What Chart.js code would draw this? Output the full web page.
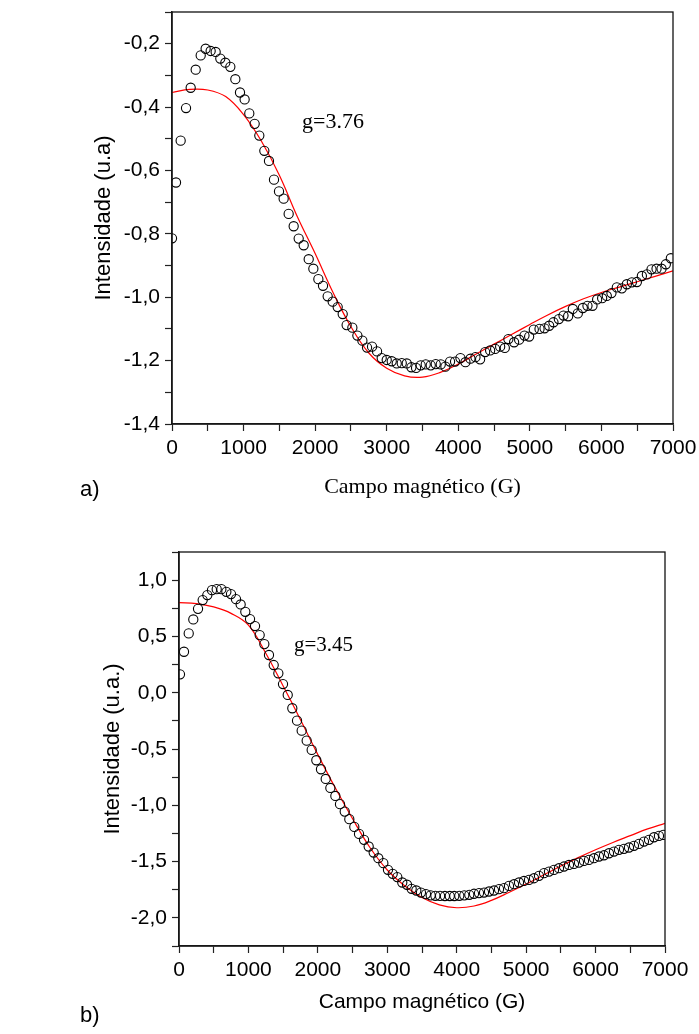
<!DOCTYPE html>
<html>
<head>
<meta charset="utf-8">
<script src="https://cdn.jsdelivr.net/npm/chart.js@4"></script>
<style>
  html, body { margin: 0; padding: 0; background: #fff; }
  body { width: 699px; height: 1034px; position: relative; overflow: hidden; }
  canvas { position: absolute; left: 0; }
  .lbl { position: absolute; font-family: "Liberation Sans", Arial, sans-serif; font-size: 22px; color: #000; }
</style>
</head>
<body>
<canvas id="chartA" width="699" height="510" style="top:0px;width:699px;height:510px"></canvas>
<canvas id="chartB" width="699" height="504" style="top:530px;width:699px;height:504px"></canvas>
<div class="lbl" style="left:80px;top:476px">a)</div>
<div class="lbl" style="left:80px;top:1002px">b)</div>
<script>
// ---------- Chart a) data ----------
const fieldA = [0,56,121,196,261,331,401,470,540,610,675,745,815,885,950,1015,1080,1155,1220,1290,1355,1425,1495,1560,1630,1700,1770,1840,1910,1975,2045,2110,2175,2245,2315,2385,2440,2520,2590,2660,2725,2795,2865,2930,3000,3070,3140,3210,3280,3345,3410,3475,3545,3615,3685,3755,3820,3885,3955,4030,4100,4170,4240,4305,4375,4445,4515,4585,4650,4700,4780,4850,4925,4990,5055,5135,5205,5270,5330,5405,5470,5535,5600,5670,5740,5805,5875,5940,6010,6075,6140,6215,6285,6355,6425,6495,6565,6635,6700,6770,6840,6900,6970];
const intensityA = [-0.814,-0.638,-0.506,-0.403,-0.339,-0.282,-0.237,-0.216,-0.223,-0.226,-0.247,-0.26,-0.273,-0.312,-0.354,-0.376,-0.42,-0.453,-0.49,-0.538,-0.57,-0.629,-0.666,-0.689,-0.737,-0.776,-0.815,-0.836,-0.88,-0.91,-0.943,-0.964,-0.997,-1.014,-1.031,-1.053,-1.088,-1.096,-1.121,-1.137,-1.159,-1.156,-1.171,-1.192,-1.198,-1.202,-1.209,-1.208,-1.209,-1.221,-1.223,-1.215,-1.212,-1.215,-1.211,-1.212,-1.219,-1.203,-1.203,-1.192,-1.205,-1.194,-1.189,-1.196,-1.173,-1.168,-1.163,-1.156,-1.16,-1.132,-1.142,-1.134,-1.121,-1.124,-1.102,-1.10,-1.098,-1.09,-1.079,-1.069,-1.058,-1.06,-1.037,-1.051,-1.034,-1.027,-1.027,-1.007,-1.003,-0.996,-0.987,-0.969,-0.972,-0.959,-0.953,-0.952,-0.933,-0.928,-0.912,-0.91,-0.91,-0.896,-0.877];
const fitFieldA = [0,250,500,750,1000,1250,1500,1750,2000,2250,2500,2750,3000,3250,3500,3750,4000,4250,4500,4750,5000,5250,5500,5750,6000,6250,6500,6750,7000];
const fitA = [-0.354,-0.344,-0.346,-0.367,-0.424,-0.508,-0.615,-0.745,-0.862,-0.985,-1.093,-1.176,-1.224,-1.248,-1.252,-1.237,-1.211,-1.179,-1.148,-1.117,-1.086,-1.056,-1.029,-1.005,-0.985,-0.968,-0.951,-0.934,-0.917];
const xTicksA = [0,1000,2000,3000,4000,5000,6000,7000];
const labelA = "g=3.76";

// ---------- Chart b) data ----------
const fieldB = [14,72,140,206,274,341,408,475,543,610,682,749,821,888,955,1023,1095,1162,1229,1296,1364,1431,1498,1566,1632,1700,1767,1839,1911,1978,2045,2113,2180,2252,2319,2387,2453,2525,2593,2665,2732,2804,2871,2943,3010,3078,3144,3216,3284,3351,3418,3485,3557,3625,3693,3760,3830,3900,3965,4037,4109,4181,4249,4321,4393,4465,4537,4609,4681,4753,4825,4897,4969,5041,5113,5185,5257,5329,5401,5473,5545,5617,5689,5761,5833,5905,5977,6049,6121,6193,6265,6337,6409,6481,6553,6625,6697,6769,6841,6913,6975];
const intensityB = [0.163,0.364,0.527,0.651,0.745,0.823,0.867,0.911,0.92,0.92,0.896,0.876,0.831,0.784,0.719,0.654,0.592,0.512,0.432,0.335,0.246,0.172,0.077,-0.02,-0.138,-0.248,-0.337,-0.426,-0.508,-0.6,-0.68,-0.766,-0.846,-0.917,-0.99,-1.056,-1.123,-1.192,-1.254,-1.307,-1.366,-1.42,-1.47,-1.514,-1.573,-1.609,-1.638,-1.686,-1.706,-1.742,-1.757,-1.775,-1.789,-1.80,-1.804,-1.805,-1.806,-1.806,-1.806,-1.804,-1.80,-1.795,-1.786,-1.78,-1.775,-1.766,-1.757,-1.745,-1.736,-1.716,-1.701,-1.686,-1.672,-1.663,-1.648,-1.627,-1.603,-1.589,-1.574,-1.559,-1.544,-1.53,-1.521,-1.509,-1.494,-1.485,-1.47,-1.455,-1.444,-1.426,-1.411,-1.396,-1.387,-1.375,-1.36,-1.343,-1.322,-1.307,-1.284,-1.272,-1.263];
const fitFieldB = [0,250,500,750,1000,1250,1500,1750,2000,2250,2500,2750,3000,3250,3500,3750,4000,4250,4500,4750,5000,5250,5500,5750,6000,6250,6500,6750,7000];
const fitB = [0.80,0.792,0.762,0.705,0.60,0.35,0.06,-0.24,-0.55,-0.845,-1.12,-1.375,-1.575,-1.715,-1.82,-1.885,-1.91,-1.895,-1.845,-1.775,-1.70,-1.62,-1.54,-1.465,-1.395,-1.33,-1.27,-1.21,-1.16];
const xTicksB = [0,1000,2000,3000,4000,5000,6000,7000];
const labelB = "g=3.45";

const SANS = '"Liberation Sans", Arial, sans-serif';
const SERIF = '"Liberation Serif", "Times New Roman", serif';

function pts(xs, ys) { return xs.map((x, i) => ({x: x, y: ys[i]})); }

const framePlugin = {
  id: 'frame',
  afterDraw(chart, args, opts) {
    const {ctx, chartArea: a} = chart;
    ctx.save();
    ctx.strokeStyle = '#111';
    ctx.lineWidth = 1.3;
    ctx.strokeRect(a.left, a.top, a.right - a.left, a.bottom - a.top);
    const xs = chart.scales.x, ys = chart.scales.y;
    ctx.fillStyle = '#000';
    ctx.font = opts.font;
    ctx.textAlign = 'left';
    ctx.textBaseline = 'alphabetic';
    ctx.fillText(opts.text, xs.getPixelForValue(opts.x), ys.getPixelForValue(opts.y));
    ctx.restore();
  }
};

function makeChart(id, cfg) {
  const axisCommon = {
    grid: { drawOnChartArea: false, drawTicks: true, tickLength: 7, color: '#222', tickWidth: 1.2 },
    border: { display: true, color: '#222', width: 1.5 },
  };
  return new Chart(document.getElementById(id), {
    type: 'scatter',
    data: {
      datasets: [
        {
          label: 'fit',
          type: 'line',
          data: pts(cfg.fitX, cfg.fitY),
          borderColor: '#ff0000',
          borderWidth: 1.2,
          pointRadius: 0,
          fill: false,
          tension: 0.4,
          order: 2
        },
        {
          label: 'exp',
          data: pts(cfg.dataX, cfg.dataY),
          pointStyle: 'circle',
          pointRadius: 4.6,
          pointBorderWidth: 1.1,
          pointBorderColor: '#000',
          pointBackgroundColor: 'rgba(255,255,255,0)',
          showLine: false,
          order: 1
        }
      ]
    },
    options: {
      responsive: false,
      animation: false,
      devicePixelRatio: 1,
      layout: { padding: cfg.padding },
      plugins: {
        legend: { display: false },
        tooltip: { enabled: false },
        frame: cfg.note
      },
      scales: {
        x: Object.assign({}, axisCommon, {
          type: 'linear',
          min: 0, max: 7000,
          afterFit(s) { s.height = cfg.xHeight; s.paddingLeft = 0; s.paddingRight = 0; },
          afterBuildTicks(s) {
            const t = [];
            for (let v = 0; v <= 7000; v += 500) t.push({value: v});
            s.ticks = t;
          },
          ticks: {
            autoSkip: false, maxRotation: 0, padding: 5,
            color: '#000',
            font: { family: SANS, size: 21 },
            callback: (v) => (cfg.xTicks.includes(v) ? String(v) : '')
          },
          title: {
            display: true, text: 'Campo magnético (G)', color: '#000',
            font: { family: cfg.xTitleFont, size: cfg.xTitleSize },
            padding: { top: 0, bottom: cfg.xTitlePad }
          }
        }),
        y: Object.assign({}, axisCommon, {
          type: 'linear',
          min: cfg.yMin, max: cfg.yMax,
          afterFit(s) { s.width = cfg.yWidth; s.paddingTop = 0; s.paddingBottom = 0; },
          afterBuildTicks(s) {
            const t = [];
            const n = Math.round((cfg.yMax - cfg.yMin) / cfg.yMinor);
            for (let i = 0; i <= n; i++) t.push({value: +(cfg.yMin + i * cfg.yMinor).toFixed(3)});
            s.ticks = t;
          },
          ticks: {
            autoSkip: false, padding: 5,
            color: '#000',
            font: { family: SANS, size: 21 },
            callback: (v) => {
              const k = Math.round(v / cfg.yMajor * 1000) / 1000;
              if (Math.abs(k - Math.round(k)) > 1e-6) return '';
              let s = v.toFixed(1).replace('.', ',');
              if (s === '-0,0') s = '0,0';
              return s;
            }
          },
          title: {
            display: true, text: cfg.yTitle, color: '#000',
            font: { family: SANS, size: 22 },
            padding: { top: cfg.yTitlePad, bottom: 0 }
          }
        })
      }
    },
    plugins: [framePlugin]
  });
}

makeChart('chartA', {
  dataX: fieldA, dataY: intensityA, fitX: fitFieldA, fitY: fitA, xTicks: xTicksA,
  padding: { left: 0, top: 12, right: 26, bottom: 0 },
  yWidth: 172, xHeight: 86,
  yMin: -1.4, yMax: -0.1, yMinor: 0.1, yMajor: 0.2,
  yTitle: 'Intensidade (u.a)', yTitlePad: 91,
  xTitleFont: SERIF, xTitleSize: 22, xTitlePad: 10,
  note: { text: labelA, x: 1816, y: -0.466, font: '22px ' + SERIF }
});

makeChart('chartB', {
  dataX: fieldB, dataY: intensityB, fitX: fitFieldB, fitY: fitB, xTicks: xTicksB,
  padding: { left: 0, top: 22, right: 34, bottom: 0 },
  yWidth: 179, xHeight: 88,
  yMin: -2.25, yMax: 1.25, yMinor: 0.25, yMajor: 0.5,
  yTitle: 'Intensidade (u.a.)', yTitlePad: 100,
  xTitleFont: SANS, xTitleSize: 21, xTitlePad: 19,
  note: { text: labelB, x: 1656, y: 0.37, font: '21px ' + SERIF }
});
</script>
</body>
</html>
